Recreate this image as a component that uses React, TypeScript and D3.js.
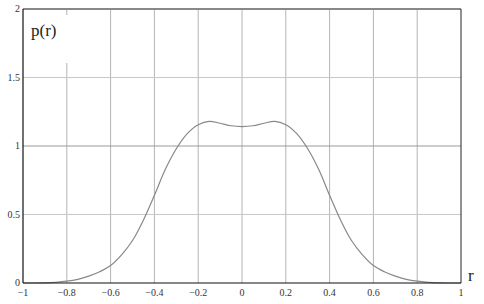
import * as d3 from "d3";

const xTicks = [-1, -0.8, -0.6, -0.4, -0.2, 0, 0.2, 0.4, 0.6, 0.8, 1];
const yTicks = [0, 0.5, 1, 1.5, 2];
const rValues = [-1, -0.9, -0.85, -0.8, -0.75, -0.7, -0.65, -0.6, -0.55, -0.5, -0.45, -0.4, -0.35, -0.3, -0.25, -0.2, -0.15, -0.1, -0.05, 0, 0.05, 0.1, 0.15, 0.2, 0.25, 0.3, 0.35, 0.4, 0.45, 0.5, 0.55, 0.6, 0.65, 0.7, 0.75, 0.8, 0.85, 0.9, 1];
const pValues = [0, 0.001, 0.005, 0.013, 0.027, 0.05, 0.082, 0.127, 0.205, 0.31, 0.46, 0.64, 0.83, 0.98, 1.09, 1.155, 1.18, 1.166, 1.148, 1.142, 1.148, 1.166, 1.18, 1.155, 1.09, 0.98, 0.83, 0.64, 0.46, 0.31, 0.205, 0.127, 0.082, 0.05, 0.027, 0.013, 0.005, 0.001, 0];

const W = 484;
const H = 304;
const left = 23;
const right = 461;
const top = 9;
const bottom = 283;

export default function App() {
  const x = d3.scaleLinear().domain([-1, 1]).range([left, right]);
  const y = d3.scaleLinear().domain([0, 2]).range([bottom, top]);

  const line = d3
    .line<number>()
    .x((_, i) => x(rValues[i]))
    .y((d) => y(d))
    .curve(d3.curveCatmullRom.alpha(0.5));

  const font = "'Liberation Serif', 'DejaVu Serif', serif";
  const fmt = (v: number) => (v < 0 ? "\u2212" + Math.abs(v) : String(v));

  return (
    <svg
      width={W}
      height={H}
      style={{ position: "absolute", left: 0, top: 0, background: "#fff" }}
    >
      {/* vertical grid */}
      {xTicks.slice(1, -1).map((t) => (
        <line
          key={"vx" + t}
          x1={x(t)}
          x2={x(t)}
          y1={top}
          y2={bottom}
          stroke="#b4b4b4"
          strokeWidth={1}
        />
      ))}
      {/* horizontal grid */}
      {yTicks.slice(1, -1).map((t) => (
        <line
          key={"hy" + t}
          x1={left}
          x2={right}
          y1={y(t)}
          y2={y(t)}
          stroke={t === 1 ? "#9a9a9a" : "#c8c8c8"}
          strokeWidth={1}
        />
      ))}
      {/* label box */}
      <rect x={left + 1} y={15} width={44} height={48} fill="#fff" />
      <text x={31} y={36} fontFamily={font} fontSize={17} fill="#222">
        p(r)
      </text>

      {/* curve */}
      <path d={line(pValues) ?? ""} fill="none" stroke="#888" strokeWidth={1.2} />

      {/* frame */}
      <line x1={left} x2={right} y1={top} y2={top} stroke="#888" strokeWidth={2} />
      <line x1={right} x2={right} y1={top} y2={bottom} stroke="#222" strokeWidth={1} />
      <line x1={left} x2={left} y1={top} y2={bottom} stroke="#111" strokeWidth={1.2} />
      <line x1={left} x2={right} y1={bottom} y2={bottom} stroke="#111" strokeWidth={1.2} />

      {/* y tick labels */}
      {yTicks.map((t) => (
        <text
          key={"yl" + t}
          x={left - 3}
          y={y(t) + 3}
          textAnchor="end"
          fontFamily={font}
          fontSize={10}
          fill="#333"
        >
          {t}
        </text>
      ))}
      {/* x tick labels */}
      {xTicks.map((t) => (
        <text
          key={"xl" + t}
          x={x(t)}
          y={bottom + 13}
          textAnchor="middle"
          fontFamily={font}
          fontSize={10}
          fill="#333"
        >
          {fmt(t)}
        </text>
      ))}
      <text x={468} y={281} fontFamily={font} fontSize={17} fill="#222">
        r
      </text>
    </svg>
  );
}
